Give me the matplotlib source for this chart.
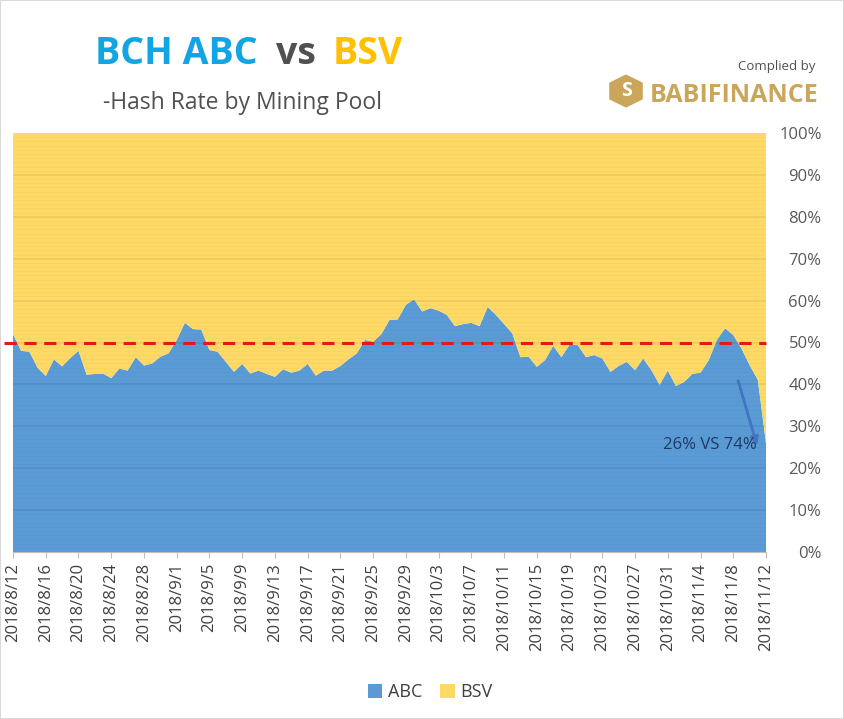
import matplotlib.pyplot as plt
import numpy as np
import pandas as pd
from matplotlib.patches import Rectangle, RegularPolygon

plt.rcParams['font.family'] = ['Open Sans', 'DejaVu Sans']

# ABC share of hash rate (%), daily from 2018/8/12 to 2018/11/12
abc = [52, 48, 47.8, 44, 42, 46, 44.3, 46.3, 48, 42.3,
       42.5, 42.6, 41.5, 43.8, 43.3, 46.5, 44.5, 45, 46.6, 47.4,
       50.6, 54.7, 53.2, 53.1, 48.2, 47.8, 45.4, 43, 44.9, 42.6,
       43.3, 42.5, 41.8, 43.6, 42.8, 43.3, 44.9, 42.1, 43.3, 43.3,
       44.4, 46, 47.4, 50.6, 50.2, 52, 55.4, 55.5, 59, 60.3,
       57.4, 58.2, 57.6, 56.6, 53.9, 54.4, 54.7, 53.9, 58.5, 56.6,
       54.4, 52.2, 46.5, 46.6, 44.2, 45.8, 49.2, 46.5, 49.5, 49.4,
       46.5, 47, 46.2, 43, 44.4, 45.4, 43.4, 46.2, 43.4, 39.9,
       43.3, 39.6, 40.6, 42.5, 42.8, 45.8, 50.6, 53.4, 51.8, 48.6,
       44.6, 41.1, 26]
abc = np.array(abc)
bsv = 100 - abc
dates = pd.date_range('2018-08-12', periods=len(abc), freq='D')
date_labels = [f"{d.year}/{d.month}/{d.day}" for d in dates]
y_ticks = list(range(0, 101, 10))

blue = '#5B9BD5'
yellow = '#FFD966'

fig = plt.figure(figsize=(8.44, 7.19), dpi=100)
ax = fig.add_axes([13 / 844, 1 - 552 / 719, 753 / 844, 419 / 719])

x = np.arange(len(abc))
ax.stackplot(x, abc, bsv, colors=[blue, yellow], labels=['ABC', 'BSV'])
ax.set_xlim(0, len(abc) - 1)
ax.set_ylim(0, 100)

# gridlines
for v in y_ticks[1:-1]:
    ax.axhline(v, color='k', alpha=0.07, lw=1.2, zorder=3)
for v in np.arange(1, 100, 1):
    if v % 10:
        ax.axhline(v, color='k', alpha=0.025, lw=0.8, zorder=3)

# 50% line
ax.axhline(50, xmin=-0.012, xmax=1.0, color='#E31A1A', lw=2.2, ls=(0, (4, 2.5)),
           zorder=5, clip_on=False)

# annotation
ax.annotate('', xy=(91.0, 24.8), xytext=(88.5, 41.5),
            arrowprops=dict(arrowstyle='-|>', color='#4472C4', lw=2, mutation_scale=12),
            zorder=6)
ax.text(85.2, 25.5, '26% VS 74%', color='#1F3864', fontsize=12, ha='center',
        va='center', zorder=6)

ax.set_xticks(x[::4])
ax.set_xticklabels(date_labels[::4], rotation=90, fontsize=12, color='#404040')
ax.yaxis.tick_right()
ax.set_yticks(y_ticks)
ax.set_yticklabels([f"{v}%" for v in y_ticks], fontsize=12, color='#595959')
for lab in ax.get_yticklabels():
    lab.set_horizontalalignment('right')
ax.tick_params(axis='y', length=0, pad=40)
ax.tick_params(axis='x', length=4, color='#BFBFBF', pad=4)
for s in ['top', 'right', 'left']:
    ax.spines[s].set_visible(False)
ax.spines['bottom'].set_color('#BFBFBF')

# titles
fig.text(95 / 844, 1 - 64 / 719, 'BCH ABC', color='#13A5E3', fontsize=27,
         fontweight='bold', ha='left', va='baseline')
fig.text(276 / 844, 1 - 64 / 719, 'vs', color='#505050', fontsize=27,
         fontweight='bold', ha='left', va='baseline')
fig.text(333 / 844, 1 - 64 / 719, 'BSV', color='#FFC000', fontsize=27,
         fontweight='bold', ha='left', va='baseline')
fig.text(103 / 844, 1 - 109 / 719, '-Hash Rate by Mining Pool', color='#505050',
         fontsize=16.5, ha='left', va='baseline')

# logo
fig.text(815 / 844, 1 - 70 / 719, 'Complied by', color='#505050', fontsize=9.5,
         ha='right', va='baseline')
fig.text(819 / 844, 1 - 102 / 719, 'BABIFINANCE', color='#C9A65A', fontsize=18,
         fontweight='bold', ha='right', va='baseline')
fig.patches.append(RegularPolygon((626 / 844, 1 - 91 / 719), 6, radius=0.022,
                                  orientation=0, color='#C9A65A',
                                  transform=fig.transFigure, figure=fig))
fig.text(626 / 844, 1 - 91 / 719, 'S', color='white', fontsize=14, fontweight='bold',
         ha='center', va='center')

# legend
fig.legend(loc='center', bbox_to_anchor=(430 / 844, 1 - 692 / 719), ncol=2,
           frameon=False, fontsize=13, handlelength=0.8, handleheight=0.8,
           columnspacing=1.0, handletextpad=0.3, labelcolor='#404040')

fig.patches.append(Rectangle((0, 0), 1, 1, fill=False, edgecolor='#D9D9D9', lw=1.5,
                             transform=fig.transFigure, figure=fig))

fig.savefig('out.png', dpi=100)
